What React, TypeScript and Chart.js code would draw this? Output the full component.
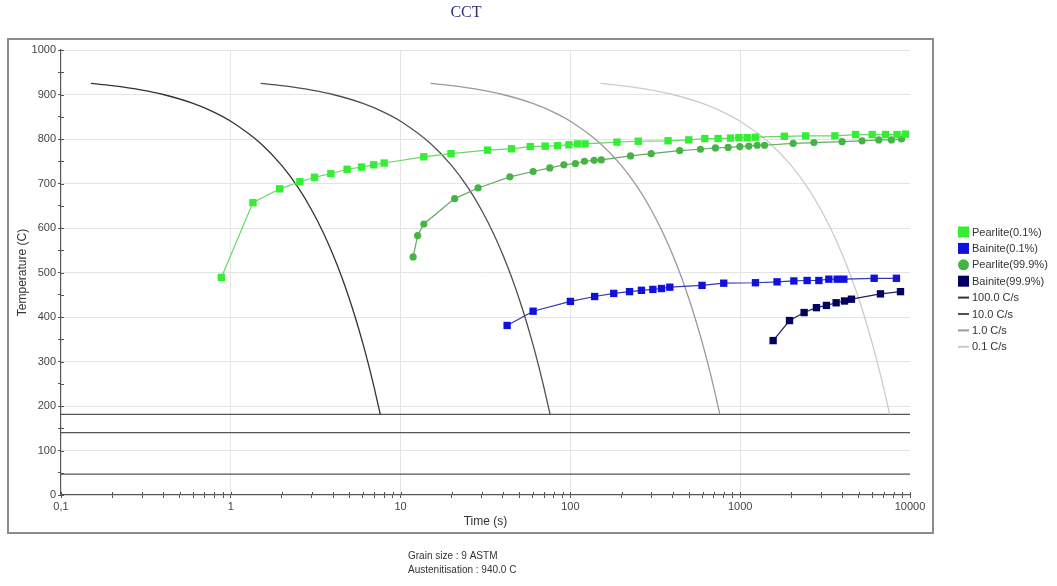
import React, { useEffect, useRef } from 'react';
import { Chart, registerables } from 'chart.js';

Chart.register(...registerables);

// ---------- data ----------
const pearlite01Time = [0.88, 1.35, 1.94, 2.55, 3.11, 3.88, 4.84, 5.89, 6.95, 8.0, 13.7, 19.8, 32.5, 45, 58, 71, 84, 98, 110, 122, 188, 251, 376, 498, 619, 741, 877, 982, 1100, 1230, 1820, 2430, 3610, 4780, 5990, 7170, 8390, 9400];
const pearlite01Temp = [489, 657, 688, 704, 714, 722, 732, 737, 742, 746, 760, 767, 775, 778, 783, 784, 785, 787, 789, 789, 793, 795, 796, 798, 801, 801, 802, 803, 803, 804, 806, 807, 807, 810, 810, 810, 810, 811];

const pearlite999Time = [11.85, 12.6, 13.7, 20.8, 28.6, 44, 60.3, 75.6, 91.5, 107, 121, 138, 152, 226, 299, 440, 583, 715, 849, 995, 1124, 1259, 1391, 2050, 2718, 3983, 5222, 6546, 7778, 8912];
const pearlite999Temp = [535, 583, 609, 666, 690, 715, 727, 735, 742, 745, 750, 752, 753, 762, 767, 774, 777, 780, 781, 783, 784, 786, 786, 790, 792, 794, 796, 798, 798, 800];

const bainite01Time = [42.4, 60.3, 100, 139, 180, 223, 262, 306, 344, 385, 596, 800, 1230, 1649, 2070, 2478, 2906, 3326, 3726, 4077, 6150, 8320];
const bainite01Temp = [381, 413, 435, 446, 453, 457, 460, 462, 464, 467, 471, 476, 477, 479, 481, 482, 482, 485, 485, 485, 487, 487];

const bainite999Time = [1563, 1952, 2379, 2813, 3220, 3673, 4115, 4520, 6700, 8790];
const bainite999Temp = [347, 392, 410, 421, 426, 432, 436, 440, 452, 457];

const coolingTemps = [925, 920, 910, 900, 880, 860, 840, 790, 740, 690, 640, 590, 540, 490, 440, 390, 340, 290, 240, 181];
const cooling100Time = [0.15, 0.2, 0.3, 0.4, 0.6, 0.8, 1, 1.5, 2, 2.5, 3, 3.5, 4, 4.5, 5, 5.5, 6, 6.5, 7, 7.59];
const cooling10Time = [1.5, 2, 3, 4, 6, 8, 10, 15, 20, 25, 30, 35, 40, 45, 50, 55, 60, 65, 70, 75.9];
const cooling1Time = [15, 20, 30, 40, 60, 80, 100, 150, 200, 250, 300, 350, 400, 450, 500, 550, 600, 650, 700, 759];
const cooling01Time = [150, 200, 300, 400, 600, 800, 1000, 1500, 2000, 2500, 3000, 3500, 4000, 4500, 5000, 5500, 6000, 6500, 7000, 7590];

const martensiteTemps = [181, 140, 47];
const timeRange = [0.1, 10000];

const xTickValues = [
  0.1, 0.2, 0.3, 0.4, 0.5, 0.6, 0.7, 0.8, 0.9,
  1, 2, 3, 4, 5, 6, 7, 8, 9,
  10, 20, 30, 40, 50, 60, 70, 80, 90,
  100, 200, 300, 400, 500, 600, 700, 800, 900,
  1000, 2000, 3000, 4000, 5000, 6000, 7000, 8000, 9000,
  10000,
];

const legendLabels = ['Pearlite(0.1%)', 'Bainite(0.1%)', 'Pearlite(99.9%)', 'Bainite(99.9%)', '100.0 C/s', '10.0 C/s', '1.0 C/s', '0.1 C/s'];
const titleText = 'CCT';
const footnoteLines = ['Grain size : 9 ASTM', 'Austenitisation : 940.0 C'];

// ---------- styles ----------
const C_P01 = '#33ee33';
const C_P01_LINE = '#66d866';
const C_P999 = '#44b444';
const C_P999_LINE = '#66a866';
const C_B01 = '#1111dd';
const C_B01_LINE = '#3838a8';
const C_B999 = '#000060';
const C_B999_LINE = '#22225e';
const C_COOL = ['#333333', '#505050', '#9a9a9a', '#cccccc'];

const pts = (xs: number[], ys: number[]) => xs.map((x, i) => ({ x, y: ys[i] }));
const isDecade = (v: number) => Math.abs(Math.log10(v) - Math.round(Math.log10(v))) < 1e-9;

const decorPlugin = {
  id: 'decor',
  beforeDraw(chart: any) {
    const ctx = chart.ctx;
    ctx.save();
    ctx.fillStyle = '#ffffff';
    ctx.fillRect(0, 0, chart.width, chart.height);
    ctx.strokeStyle = '#8c8c8c';
    ctx.lineWidth = 2;
    ctx.strokeRect(8, 39, 925, 494);
    ctx.restore();
  },
  afterDatasetsDraw(chart: any) {
    // inner half of tick marks (ticks cross the axis lines in the reference)
    const ctx = chart.ctx;
    const xs = chart.scales.x;
    const ys = chart.scales.y;
    const area = chart.chartArea;
    ctx.save();
    ctx.strokeStyle = '#555555';
    ctx.lineWidth = 1;
    ctx.beginPath();
    xs.ticks.forEach((t: any) => {
      const px = Math.round(xs.getPixelForValue(t.value)) + 0.5;
      ctx.moveTo(px, area.bottom);
      ctx.lineTo(px, area.bottom - 3);
    });
    ys.ticks.forEach((t: any) => {
      const py = Math.round(ys.getPixelForValue(t.value)) + 0.5;
      ctx.moveTo(area.left, py);
      ctx.lineTo(area.left + 3, py);
    });
    ctx.stroke();
    ctx.restore();
  },
  afterDraw(chart: any) {
    const ctx = chart.ctx;
    ctx.save();
    // title
    ctx.fillStyle = '#30307e';
    ctx.font = '16px "Liberation Serif", "DejaVu Serif", serif';
    ctx.textAlign = 'center';
    ctx.textBaseline = 'middle';
    ctx.fillText(titleText, 466, 13);

    // legend
    const markers = [
      { kind: 'square', color: C_P01 },
      { kind: 'square', color: C_B01 },
      { kind: 'circle', color: C_P999 },
      { kind: 'square', color: C_B999 },
      { kind: 'line', color: C_COOL[0] },
      { kind: 'line', color: C_COOL[1] },
      { kind: 'line', color: C_COOL[2] },
      { kind: 'line', color: C_COOL[3] },
    ];
    ctx.font = '11px "Liberation Sans", Arial, sans-serif';
    ctx.textAlign = 'left';
    legendLabels.forEach((label, i) => {
      const y = 232 + i * 16.4;
      const m = markers[i];
      if (m.kind === 'square') {
        ctx.fillStyle = m.color;
        ctx.fillRect(958, y - 5.5, 11, 11);
      } else if (m.kind === 'circle') {
        ctx.fillStyle = m.color;
        ctx.beginPath();
        ctx.arc(963.5, y, 5.5, 0, Math.PI * 2);
        ctx.fill();
      } else {
        ctx.strokeStyle = m.color;
        ctx.lineWidth = 2;
        ctx.beginPath();
        ctx.moveTo(958, y);
        ctx.lineTo(969, y);
        ctx.stroke();
      }
      ctx.fillStyle = '#333333';
      ctx.fillText(label, 972, y + 0.5);
    });

    // footnote
    ctx.font = '10px "Liberation Sans", Arial, sans-serif';
    ctx.fillStyle = '#333333';
    footnoteLines.forEach((t, i) => ctx.fillText(t, 408, 556 + i * 14));
    ctx.restore();
  },
};

export default function App() {
  const ref = useRef<HTMLCanvasElement | null>(null);

  useEffect(() => {
    if (!ref.current) return;
    Chart.defaults.font.family = '"Liberation Sans", Arial, sans-serif';

    const markerDs = (label: string, xs: number[], ys: number[], color: string, line: string, style: string, r: number) => ({
      label,
      data: pts(xs, ys),
      showLine: true,
      borderColor: line,
      borderWidth: 1.2,
      backgroundColor: color,
      pointBackgroundColor: color,
      pointBorderColor: color,
      pointBorderWidth: 0,
      pointStyle: style,
      pointRadius: r,
      pointHoverRadius: r,
      tension: 0,
    });

    const coolDs = (label: string, xs: number[], color: string) => ({
      label,
      data: pts(xs, coolingTemps),
      showLine: true,
      borderColor: color,
      borderWidth: 1.3,
      pointRadius: 0,
      cubicInterpolationMode: 'monotone',
    });

    const msDs = martensiteTemps.map((t, i) => ({
      label: 'M' + i,
      data: pts(timeRange, [t, t]),
      showLine: true,
      borderColor: '#555555',
      borderWidth: 1.3,
      pointRadius: 0,
    }));

    const chart = new Chart(ref.current, {
      type: 'scatter',
      data: {
        datasets: [
          markerDs(legendLabels[0], pearlite01Time, pearlite01Temp, C_P01, C_P01_LINE, 'rect', 5.2),
          markerDs(legendLabels[1], bainite01Time, bainite01Temp, C_B01, C_B01_LINE, 'rect', 5.2),
          markerDs(legendLabels[2], pearlite999Time, pearlite999Temp, C_P999, C_P999_LINE, 'circle', 3.6),
          markerDs(legendLabels[3], bainite999Time, bainite999Temp, C_B999, C_B999_LINE, 'rect', 5.2),
          coolDs(legendLabels[4], cooling100Time, C_COOL[0]),
          coolDs(legendLabels[5], cooling10Time, C_COOL[1]),
          coolDs(legendLabels[6], cooling1Time, C_COOL[2]),
          coolDs(legendLabels[7], cooling01Time, C_COOL[3]),
          ...msDs,
        ] as any,
      },
      options: {
        animation: false,
        responsive: false,
        devicePixelRatio: 1,
        events: [],
        layout: { padding: { left: 12, right: 147, top: 50, bottom: 56 } },
        plugins: {
          legend: { display: false },
          title: { display: false },
          tooltip: { enabled: false },
        },
        scales: {
          x: {
            type: 'logarithmic',
            min: 0.1,
            max: 10000,
            afterBuildTicks: (scale: any) => {
              scale.ticks = xTickValues.map((v) => ({ value: v }));
            },
            afterFit: (scale: any) => {
              scale.height = 35;
            },
            ticks: {
              autoSkip: false,
              maxRotation: 0,
              padding: 2,
              color: '#444444',
              font: { size: 11 },
              callback: (v: any) => {
                const n = Number(v);
                if (!isDecade(n)) return '';
                return n === 0.1 ? '0,1' : String(Math.round(n));
              },
            },
            grid: {
              color: (c: any) => {
                const v = c.tick && c.tick.value;
                if (v === undefined) return 'transparent';
                if (v === 0.1 || v === 10000) return 'transparent';
                return isDecade(v) ? '#e4e4e4' : 'transparent';
              },
              tickColor: '#555555',
              tickLength: 3,
              drawTicks: true,
            },
            border: { color: '#555555', width: 1.2 },
            title: {
              display: true,
              text: 'Time (s)',
              color: '#333333',
              font: { size: 12 },
              padding: { top: 2, bottom: 1 },
            },
          },
          y: {
            type: 'linear',
            min: 0,
            max: 1000,
            afterFit: (scale: any) => {
              scale.width = 49;
            },
            ticks: {
              stepSize: 50,
              padding: 2,
              color: '#444444',
              font: { size: 11 },
              callback: (v: any) => (Number(v) % 100 === 0 ? String(v) : ''),
            },
            grid: {
              color: (c: any) => {
                const v = c.tick && c.tick.value;
                if (v === undefined || v === 0) return 'transparent';
                return v % 100 === 0 ? '#e4e4e4' : 'transparent';
              },
              tickColor: '#555555',
              tickLength: 3,
            },
            border: { color: '#555555', width: 1.2 },
            title: {
              display: true,
              text: 'Temperature (C)',
              color: '#333333',
              font: { size: 12 },
              padding: { top: 3, bottom: 2 },
            },
          },
        },
      } as any,
      plugins: [decorPlugin],
    });

    return () => chart.destroy();
  }, []);

  return (
    <div style={{ position: 'fixed', left: 0, top: 0, width: 1057, height: 586, background: '#fff' }}>
      <canvas ref={ref} width={1057} height={586} style={{ display: 'block', width: 1057, height: 586 }} />
    </div>
  );
}
